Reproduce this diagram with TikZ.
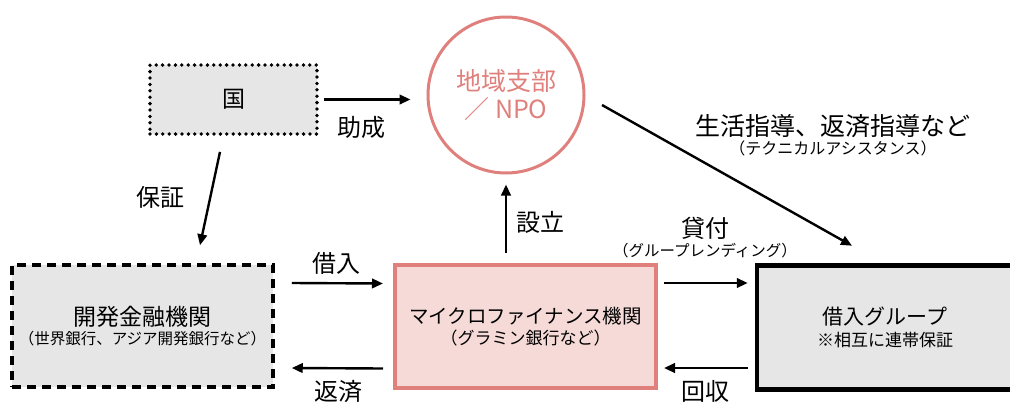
\documentclass[tikz,border=0pt]{standalone}
\usepackage{fontspec}
\setmainfont{Noto Sans CJK JP}
\usetikzlibrary{arrows.meta}
\definecolor{pinkline}{RGB}{224,128,124}
\definecolor{pinkfill}{RGB}{245,218,216}
\definecolor{grayfill}{RGB}{230,230,230}
\newcommand{\fs}[1]{\fontsize{#1}{#1}\selectfont}
\tikzset{
  arr/.style={line width=2.4pt, -{Triangle[length=11pt,width=9.5pt]}},
  lbl/.style={font=\fs{24}, inner sep=0pt},
  boxkuni/.style={draw, fill=grayfill, line width=3.8pt, line cap=round, dash pattern=on 0pt off 6.4pt, minimum width=167pt, minimum height=69pt, inner sep=0pt},
  boxdev/.style={draw, fill=grayfill, line width=3.5pt, dash pattern=on 9pt off 6pt, minimum width=261pt, minimum height=122pt, inner sep=0pt, align=center},
  boxmfi/.style={draw=pinkline, fill=pinkfill, line width=4pt, minimum width=261pt, minimum height=123pt, inner sep=0pt, align=center},
  boxgrp/.style={draw, fill=grayfill, line width=4.5pt, minimum width=256pt, minimum height=124pt, inner sep=0pt, align=center},
  circnpo/.style={draw=pinkline, circle, line width=3pt, minimum size=156pt, inner sep=0pt, align=center, text=pinkline},
}
\begin{document}
\begin{tikzpicture}[x=1pt,y=-1pt]
\useasboundingbox (0,0) rectangle (1010,402);
% nodes
\node[boxkuni] (kuni) at (233.5,99.5) {\fs{23}国};
\node[circnpo] (npo) at (506,95) {\fs{25}地域支部\\[4pt]\fs{25}／ NPO};
\node[boxdev] (dev) at (142.5,326) {\fs{23}開発金融機関\\[3pt]\fs{15.5}（世界銀行、アジア開発銀行など）};
\node[boxmfi] (mfi) at (525.5,326.5) {\fs{19.5}マイクロファイナンス機関\\[4pt]\fs{17}（グラミン銀行など）};
\node[boxgrp] (grp) at (885,327.5) {\fs{21}借入グループ\\[5pt]\fs{17}※相互に連帯保証};
% connectors
\draw[arr, shorten <=5pt, shorten >=16pt] (kuni.east) -- (kuni.east -| npo.west);
\draw[arr] ([xshift=-13.5pt,yshift=-16pt]kuni.south) -- ([xshift=57.5pt,yshift=18pt]dev.north);
\draw[arr] ([xshift=17pt,yshift=43pt]dev.east) -- ([xshift=-10pt,yshift=43pt]mfi.west);
\draw[arr] ([xshift=-10pt,yshift=-42pt]mfi.west) -- ([xshift=17pt,yshift=-42pt]dev.east);
\draw[arr] ([xshift=6pt,yshift=43.5pt]mfi.east) -- ([xshift=-7pt,yshift=44.5pt]grp.west);
\draw[arr] ([xshift=-7pt,yshift=-40.5pt]grp.west) -- ([xshift=6pt,yshift=-41.5pt]mfi.east);
\draw[arr, shorten <=10pt, shorten >=10pt] (npo.south |- mfi.north) -- (npo.south);
\draw[arr] ([xshift=96pt,yshift=-10pt]npo.center) -- ([xshift=-33pt,yshift=17.5pt]grp.north);
% labels
\node[lbl] (ljosei) at (361,127) {助成};
\node[lbl] (lhosho) at (160,197) {保証};
\node[lbl] (lkari) at (336,263) {借入};
\node[lbl] (lhensai) at (338,391) {返済};
\node[lbl] (lsetsu) at (540,222) {設立};
\node[lbl] (lkaishu) at (705,391) {回収};
\node[lbl] (lkashi) at (705,228) {貸付};
\node[inner sep=0pt, font=\fs{15.5}] (lgl) at (705,251) {（グループレンディング）};
\node[font=\fs{25}, inner sep=0pt] (lseikatsu) at (833,126) {生活指導、返済指導など};
\node[inner sep=0pt, font=\fs{16}] (ltech) at (833,148) {（テクニカルアシスタンス）};
\end{tikzpicture}
\end{document}
